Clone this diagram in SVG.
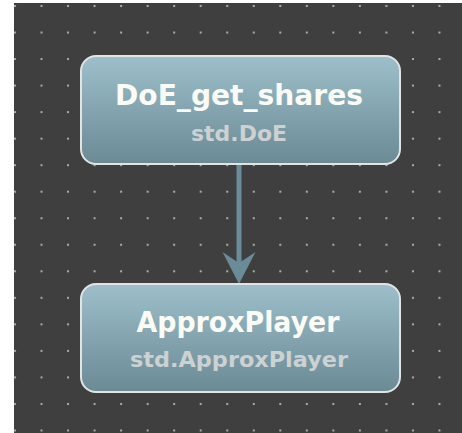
<svg xmlns="http://www.w3.org/2000/svg" width="462" height="433" viewBox="0 0 462 433">
  <defs>
    <pattern id="dots" patternUnits="userSpaceOnUse" x="14" y="5" width="26.53" height="26.53">
      <rect x="0" y="0" width="2" height="2" fill="#a3b393"/>
    </pattern>
    <linearGradient id="nodeFill" x1="0" y1="0" x2="0" y2="1">
      <stop offset="0" stop-color="#9dbfcb"/>
      <stop offset="1" stop-color="#6a8a94"/>
    </linearGradient>
    <style>
      .node rect { fill: url(#nodeFill); stroke: #e2e4e4; stroke-width: 2; }
      .title { font-family: "DejaVu Sans", sans-serif; font-weight: bold; font-size: 29px; fill: #fbfbf6; text-anchor: middle; }
      .sub { font-family: "DejaVu Sans", sans-serif; font-weight: bold; font-size: 21px; fill: #cdd1d2; text-anchor: middle; }
      .edge { stroke: #6a8c99; stroke-width: 5; fill: none; }
      .head { fill: #6a8c99; }
    </style>
  </defs>
  <rect x="0" y="0" width="462" height="433" fill="#ffffff"/>
  <rect x="14" y="3" width="448" height="430" fill="#3f3f3f"/>
  <rect x="14" y="3" width="448" height="430" fill="url(#dots)"/>

  <g id="connectors">
    <line class="edge" x1="239" y1="164" x2="239" y2="264"/>
    <polygon class="head" points="239,284 222.5,252 239,263 255.5,252"/>
  </g>

  <g id="node-doe" class="node">
    <rect x="81" y="56" width="319" height="108" rx="15" ry="15"/>
    <text class="title" x="239" y="105" textLength="248" lengthAdjust="spacingAndGlyphs">DoE_get_shares</text>
    <text class="sub" x="239" y="141" textLength="96" lengthAdjust="spacingAndGlyphs">std.DoE</text>
  </g>

  <g id="node-approx" class="node">
    <rect x="81" y="284" width="319" height="108" rx="15" ry="15"/>
    <text class="title" x="238" y="332" textLength="203" lengthAdjust="spacingAndGlyphs">ApproxPlayer</text>
    <text class="sub" x="239" y="367" textLength="218" lengthAdjust="spacingAndGlyphs">std.ApproxPlayer</text>
  </g>
</svg>
